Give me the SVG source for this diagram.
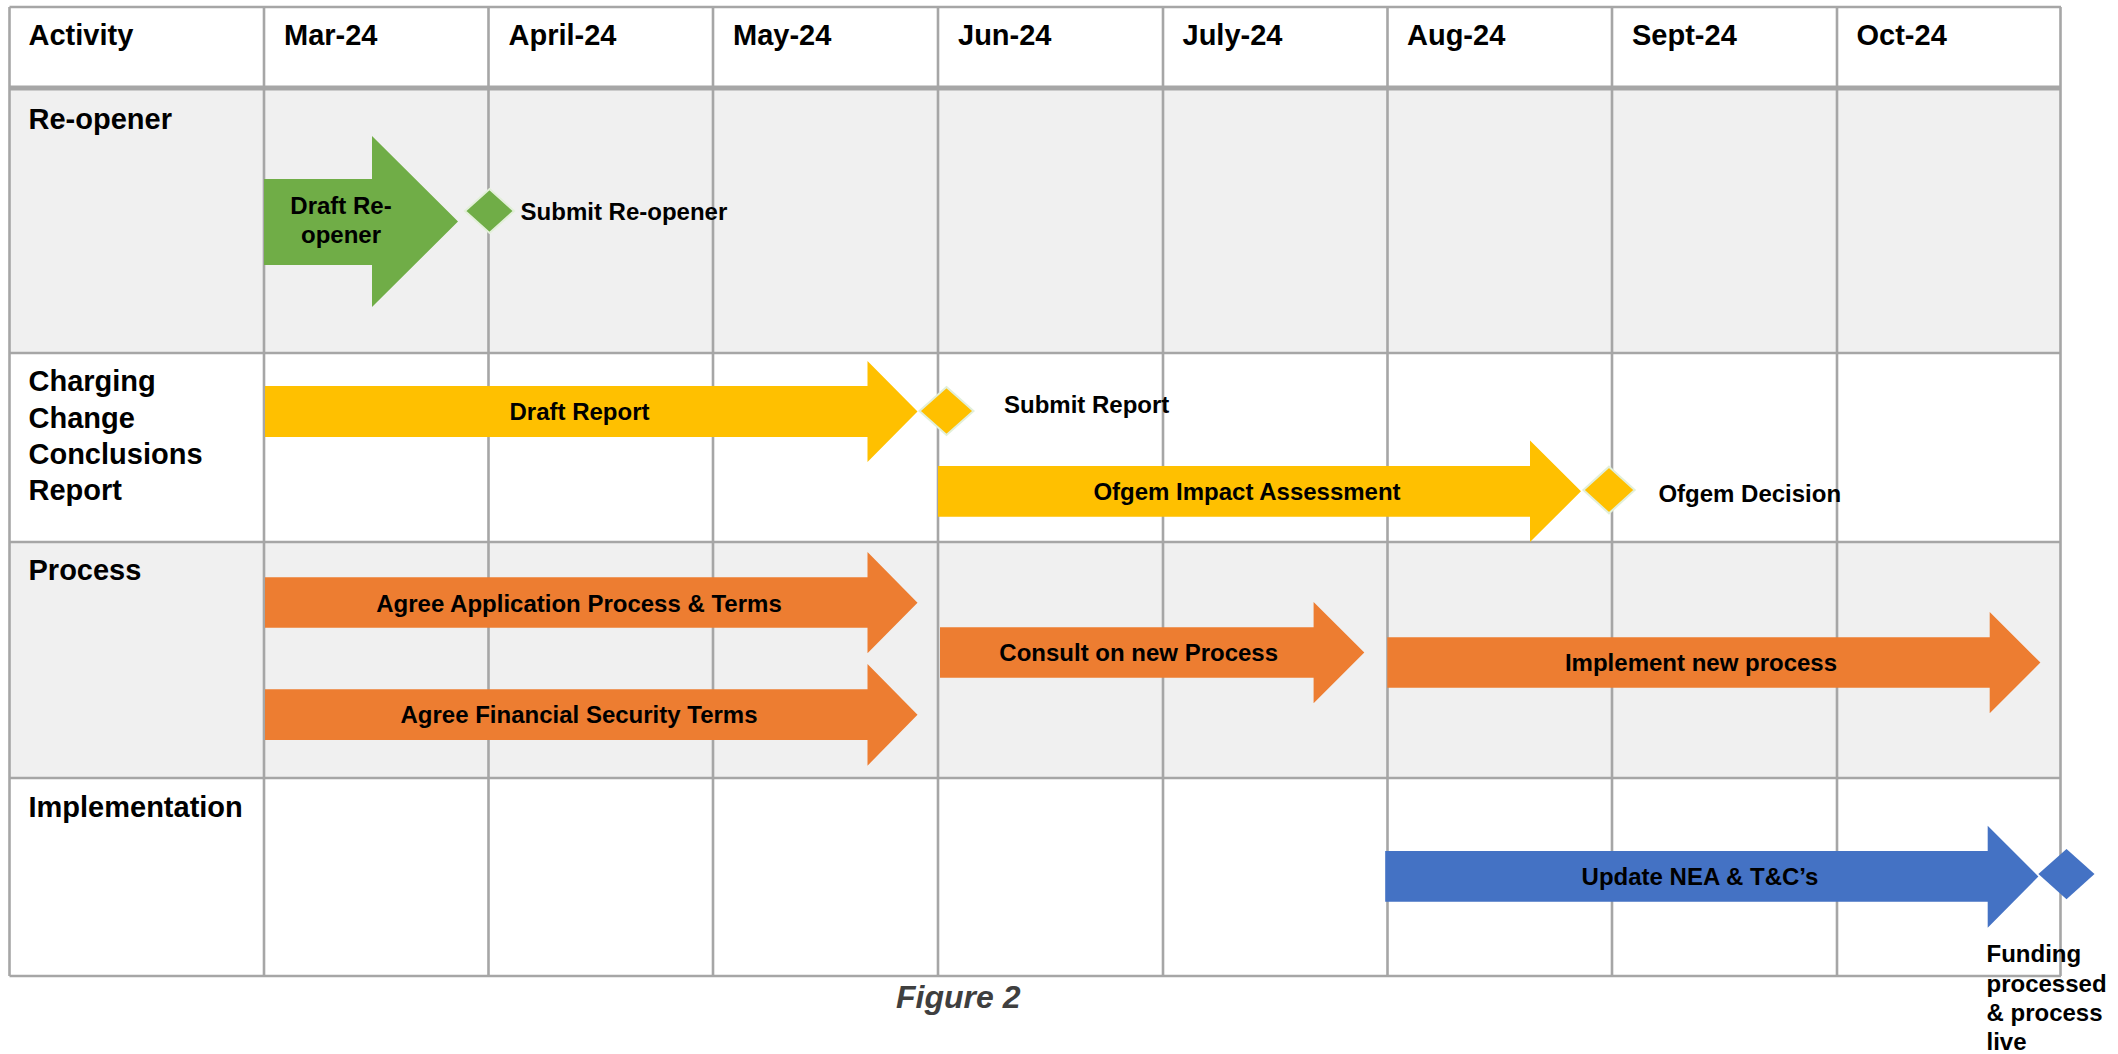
<svg xmlns="http://www.w3.org/2000/svg" width="2118" height="1054" viewBox="0 0 2118 1054">
  <style>
    text { font-family: "Liberation Sans", Arial, sans-serif; font-weight: bold; fill: #000; }
    .hdr { font-size: 29px; }
    .lbl { font-size: 24px; }
    .mid { text-anchor: middle; }
    .grid { stroke: #A6A6A6; stroke-width: 2.6; fill: none; }
    .thick { stroke: #A6A6A6; stroke-width: 5; }
    .green { fill: #70AD47; }
    .yellow { fill: #FFC000; }
    .orange { fill: #ED7D31; }
    .blue { fill: #4472C4; }
    .ms { stroke: #E2EFD9; stroke-width: 2; }
    .fig { font-size: 32px; font-style: italic; fill: #3F3F3F; }
  </style>

  <rect x="0" y="0" width="2118" height="1054" fill="#FFFFFF"/>

  <!-- table: row shading and grid -->
  <g id="table">
    <rect x="9.5" y="88" width="2051.5" height="265" fill="#F0F0F0"/>
    <rect x="9.5" y="542" width="2051.5" height="236" fill="#F0F0F0"/>
    <g class="grid">
      <line x1="9.5" y1="7" x2="2061" y2="7"/>
      <line x1="9.5" y1="353" x2="2061" y2="353"/>
      <line x1="9.5" y1="542" x2="2061" y2="542"/>
      <line x1="9.5" y1="778" x2="2061" y2="778"/>
      <line x1="9.5" y1="976" x2="2061" y2="976"/>
      <line x1="9.5" y1="7" x2="9.5" y2="976"/>
      <line x1="264" y1="7" x2="264" y2="976"/>
      <line x1="488.5" y1="7" x2="488.5" y2="976"/>
      <line x1="713" y1="7" x2="713" y2="976"/>
      <line x1="938" y1="7" x2="938" y2="976"/>
      <line x1="1163" y1="7" x2="1163" y2="976"/>
      <line x1="1387.5" y1="7" x2="1387.5" y2="976"/>
      <line x1="1612" y1="7" x2="1612" y2="976"/>
      <line x1="1837" y1="7" x2="1837" y2="976"/>
      <line x1="2060.5" y1="7" x2="2060.5" y2="976"/>
    </g>
    <line class="thick" x1="9.5" y1="88" x2="2061" y2="88"/>
  </g>

  <!-- column headings -->
  <g id="header">
    <text class="hdr" x="28.5" y="44.5">Activity</text>
    <text class="hdr" x="284" y="44.5">Mar-24</text>
    <text class="hdr" x="508.5" y="44.5">April-24</text>
    <text class="hdr" x="733" y="44.5">May-24</text>
    <text class="hdr" x="958" y="44.5">Jun-24</text>
    <text class="hdr" x="1182.5" y="44.5">July-24</text>
    <text class="hdr" x="1407" y="44.5">Aug-24</text>
    <text class="hdr" x="1632" y="44.5">Sept-24</text>
    <text class="hdr" x="1856.5" y="44.5">Oct-24</text>
  </g>

  <!-- row headings -->
  <g id="rows">
    <text class="hdr" x="28.5" y="128.5">Re-opener</text>
    <text class="hdr" x="28.5" y="391">Charging</text>
    <text class="hdr" x="28.5" y="427.5">Change</text>
    <text class="hdr" x="28.5" y="463.5">Conclusions</text>
    <text class="hdr" x="28.5" y="500">Report</text>
    <text class="hdr" x="28.5" y="580">Process</text>
    <text class="hdr" x="28.5" y="817">Implementation</text>
  </g>

  <!-- activity arrows -->
  <g id="draft-reopener">
    <polygon class="green" points="264,179 372,179 372,136 458,221.5 372,307 372,265 264,265"/>
    <text class="lbl mid" x="341" y="214">Draft Re-</text>
    <text class="lbl mid" x="341" y="243">opener</text>
  </g>

  <g id="draft-report">
    <polygon class="yellow" points="265,386 867.5,386 867.5,361 917.5,411.5 867.5,462 867.5,437 265,437"/>
    <text class="lbl mid" x="579.5" y="420">Draft Report</text>
  </g>

  <g id="ofgem-impact">
    <polygon class="yellow" points="938,466 1530,466 1530,440.5 1581,491.3 1530,542 1530,516.7 938,516.7"/>
    <text class="lbl mid" x="1247" y="500">Ofgem Impact Assessment</text>
  </g>

  <g id="agree-application">
    <polygon class="orange" points="265,577.3 867.5,577.3 867.5,552 917.5,602.7 867.5,653.3 867.5,627.7 265,627.7"/>
    <text class="lbl mid" x="579" y="611.7">Agree Application Process &amp; Terms</text>
  </g>

  <g id="agree-financial">
    <polygon class="orange" points="265,689.3 867.5,689.3 867.5,664 917.5,714.7 867.5,765.7 867.5,740 265,740"/>
    <text class="lbl mid" x="579" y="723.3">Agree Financial Security Terms</text>
  </g>

  <g id="consult">
    <polygon class="orange" points="940,627.3 1313.6,627.3 1313.6,602 1364.3,652.5 1313.6,703.3 1313.6,677.7 940,677.7"/>
    <text class="lbl mid" x="1138.7" y="660.7">Consult on new Process</text>
  </g>

  <g id="implement">
    <polygon class="orange" points="1387.3,637.3 1989.7,637.3 1989.7,612 2040.4,662.5 1989.7,713.3 1989.7,687.7 1387.3,687.7"/>
    <text class="lbl mid" x="1701" y="670.7">Implement new process</text>
  </g>

  <g id="update-nea">
    <polygon class="blue" points="1385.2,851 1987.7,851 1987.7,825.7 2038.4,876.5 1987.7,927.7 1987.7,901.7 1385.2,901.7"/>
    <text class="lbl mid" x="1700" y="885">Update NEA &amp; T&amp;C’s</text>
  </g>

  <!-- milestones -->
  <g id="submit-reopener">
    <polygon class="green ms" points="489.5,189 514,211 489.5,233 465,211"/>
    <text class="lbl" x="520.6" y="220">Submit Re-opener</text>
  </g>

  <g id="submit-report">
    <polygon class="yellow ms" points="946.5,387 973.5,411 946.5,435 919.5,411"/>
    <text class="lbl" x="1004" y="412.7">Submit Report</text>
  </g>

  <g id="ofgem-decision">
    <polygon class="yellow ms" points="1609,466.7 1634.7,490 1609,513.3 1583.4,490"/>
    <text class="lbl" x="1658.4" y="501.7">Ofgem Decision</text>
  </g>

  <g id="funding-live">
    <polygon class="blue" points="2066.5,849 2094.5,874 2066.5,899.3 2038.4,874"/>
    <text class="lbl" x="1986.5" y="962">Funding</text>
    <text class="lbl" x="1986.5" y="991.5">processed</text>
    <text class="lbl" x="1986.5" y="1021">&amp; process</text>
    <text class="lbl" x="1986.5" y="1050">live</text>
  </g>

  <g id="connectors"/>

  <g id="caption">
    <text class="fig" x="896" y="1008">Figure 2</text>
  </g>
</svg>
